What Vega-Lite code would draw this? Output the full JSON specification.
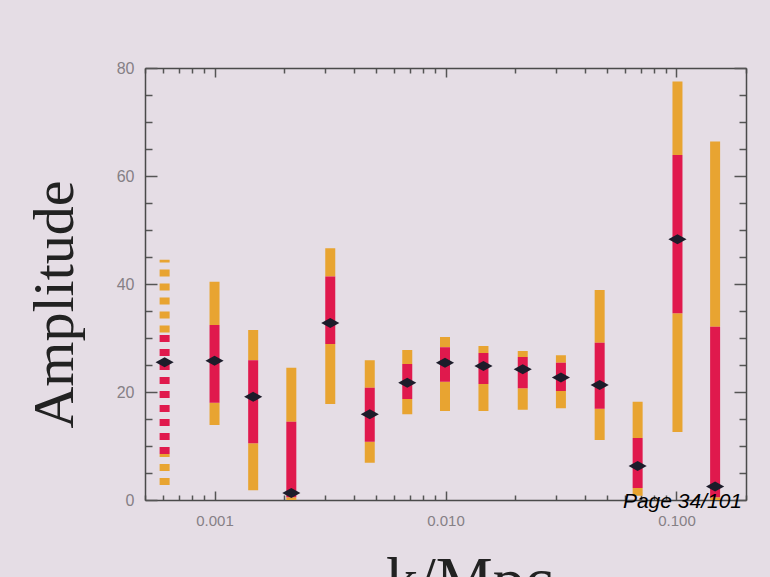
{
  "$schema": "https://vega.github.io/schema/vega-lite/v6.json",
  "width": 601,
  "height": 432,
  "autosize": {"type": "none"},
  "padding": {"left": 145, "top": 68, "right": 24, "bottom": 77},
  "background": "#e5dde5",
  "config": {"view": {"stroke": null}},
  "data": {
    "values": [
      {"k": 0.000608, "lo95": 2.8, "lo68": 8.5, "amp": 25.5, "hi68": 31.0, "hi95": 44.5, "style": "dashed"},
      {"k": 0.001, "lo95": 13.9, "lo68": 18.0, "amp": 25.8, "hi68": 32.4, "hi95": 40.4, "style": "solid"},
      {"k": 0.00147, "lo95": 1.8, "lo68": 10.5, "amp": 19.1, "hi68": 25.9, "hi95": 31.5, "style": "solid"},
      {"k": 0.00215, "lo95": 0.0, "lo68": 0.5, "amp": 1.3, "hi68": 14.5, "hi95": 24.5, "style": "solid"},
      {"k": 0.00317, "lo95": 17.8, "lo68": 28.9, "amp": 32.8, "hi68": 41.4, "hi95": 46.6, "style": "solid"},
      {"k": 0.0047, "lo95": 6.9, "lo68": 10.8, "amp": 15.9, "hi68": 20.8, "hi95": 25.9, "style": "solid"},
      {"k": 0.00683, "lo95": 15.9, "lo68": 18.7, "amp": 21.7, "hi68": 25.2, "hi95": 27.8, "style": "solid"},
      {"k": 0.00995, "lo95": 16.5, "lo68": 21.9, "amp": 25.4, "hi68": 28.3, "hi95": 30.2, "style": "solid"},
      {"k": 0.0146, "lo95": 16.5, "lo68": 21.5, "amp": 24.8, "hi68": 27.2, "hi95": 28.5, "style": "solid"},
      {"k": 0.0216, "lo95": 16.7, "lo68": 20.7, "amp": 24.2, "hi68": 26.5, "hi95": 27.6, "style": "solid"},
      {"k": 0.0316, "lo95": 17.0, "lo68": 20.2, "amp": 22.7, "hi68": 25.4, "hi95": 26.8, "style": "solid"},
      {"k": 0.0465, "lo95": 11.1, "lo68": 16.9, "amp": 21.3, "hi68": 29.1, "hi95": 38.9, "style": "solid"},
      {"k": 0.0679, "lo95": 0.8, "lo68": 2.2, "amp": 6.3, "hi68": 11.5, "hi95": 18.2, "style": "solid"},
      {"k": 0.101, "lo95": 12.6, "lo68": 34.6, "amp": 48.3, "hi68": 63.9, "hi95": 77.5, "style": "solid"},
      {"k": 0.147, "lo95": 0.0, "lo68": 0.5, "amp": 2.5, "hi68": 32.1, "hi95": 66.4, "style": "solid"}
    ]
  },
  "resolve": {"axis": {"x": "independent", "y": "independent"}},
  "layer": [
    {
      "mark": {"type": "rule", "strokeWidth": 10, "color": "#e8a431", "strokeCap": "butt"},
      "encoding": {
        "x": {
          "field": "k", "type": "quantitative",
          "scale": {"type": "log", "domain": [0.0005, 0.2], "nice": false},
          "axis": {
            "orient": "bottom", "title": "k/Mpc",
            "values": [0.0005, 0.0006, 0.0007, 0.0008, 0.0009, 0.001, 0.002, 0.003, 0.004, 0.005, 0.006, 0.007, 0.008, 0.009, 0.01, 0.02, 0.03, 0.04, 0.05, 0.06, 0.07, 0.08, 0.09, 0.1, 0.2],
            "labelExpr": "(datum.value == 0.001 || datum.value == 0.01 || datum.value == 0.1) ? format(datum.value, '.3f') : ''",
            "labelOverlap": false, "labelFlush": false,
            "labelFont": "Liberation Sans", "labelFontSize": 15, "labelColor": "#858085",
            "labelPadding": 22,
            "tickSize": {"condition": {"test": "datum.value == 0.001 || datum.value == 0.01 || datum.value == 0.1", "value": -9}, "value": -5},
            "tickColor": "#555555", "tickWidth": 1.5,
            "domainColor": "#4a4a4a", "domainWidth": 1.5, "grid": false,
            "titleFont": "Liberation Serif", "titleFontSize": 64, "titleFontWeight": "normal", "titleColor": "#222222",
            "titleX": 324, "titleY": 100, "titleBaseline": "alphabetic", "titleAlign": "center"
          }
        },
        "y": {
          "field": "lo95", "type": "quantitative",
          "scale": {"domain": [0, 80], "nice": false},
          "axis": {
            "orient": "left", "title": "Amplitude",
            "values": [0, 5, 10, 15, 20, 25, 30, 35, 40, 45, 50, 55, 60, 65, 70, 75, 80],
            "labelExpr": "datum.value % 20 == 0 ? datum.label : ''",
            "labelOverlap": false, "labelFlush": false,
            "labelFont": "Liberation Sans", "labelFontSize": 16, "labelColor": "#858085",
            "labelPadding": 23,
            "tickSize": {"condition": {"test": "datum.value % 20 == 0", "value": -12}, "value": -7},
            "tickColor": "#555555", "tickWidth": 1.5,
            "domainColor": "#4a4a4a", "domainWidth": 1.5, "grid": false,
            "titleFont": "Liberation Serif", "titleFontSize": 58, "titleFontWeight": "normal", "titleColor": "#222222",
            "titleX": -73, "titleY": 236, "titleAngle": 270, "titleBaseline": "alphabetic", "titleAlign": "center"
          }
        },
        "y2": {"field": "lo68"},
        "strokeDash": {"field": "style", "type": "nominal", "scale": {"domain": ["solid", "dashed"], "range": [[1, 0], [7, 7]]}, "legend": null}
      }
    },
    {
      "mark": {"type": "rule", "strokeWidth": 10, "color": "#e8a431", "strokeCap": "butt"},
      "encoding": {
        "x": {"field": "k", "type": "quantitative", "scale": {"type": "log", "domain": [0.0005, 0.2], "nice": false}, "axis": null},
        "y": {"field": "hi68", "type": "quantitative", "scale": {"domain": [0, 80], "nice": false}, "axis": null},
        "y2": {"field": "hi95"},
        "strokeDash": {"field": "style", "type": "nominal", "scale": {"domain": ["solid", "dashed"], "range": [[1, 0], [7, 7]]}, "legend": null}
      }
    },
    {
      "mark": {"type": "rule", "strokeWidth": 10, "color": "#e0194d", "strokeCap": "butt"},
      "encoding": {
        "x": {
          "field": "k", "type": "quantitative",
          "scale": {"type": "log", "domain": [0.0005, 0.2], "nice": false},
          "axis": {
            "orient": "top", "title": null, "labels": false,
            "values": [0.0005, 0.0006, 0.0007, 0.0008, 0.0009, 0.001, 0.002, 0.003, 0.004, 0.005, 0.006, 0.007, 0.008, 0.009, 0.01, 0.02, 0.03, 0.04, 0.05, 0.06, 0.07, 0.08, 0.09, 0.1, 0.2],
            "tickSize": {"condition": {"test": "datum.value == 0.001 || datum.value == 0.01 || datum.value == 0.1", "value": -9}, "value": -5},
            "tickColor": "#555555", "tickWidth": 1.5,
            "domainColor": "#4a4a4a", "domainWidth": 1.5, "grid": false
          }
        },
        "y": {
          "field": "lo68", "type": "quantitative",
          "scale": {"domain": [0, 80], "nice": false},
          "axis": {
            "orient": "right", "title": null, "labels": false,
            "values": [0, 5, 10, 15, 20, 25, 30, 35, 40, 45, 50, 55, 60, 65, 70, 75, 80],
            "tickSize": {"condition": {"test": "datum.value % 20 == 0", "value": -12}, "value": -7},
            "tickColor": "#555555", "tickWidth": 1.5,
            "domainColor": "#4a4a4a", "domainWidth": 1.5, "grid": false
          }
        },
        "y2": {"field": "hi68"},
        "strokeDash": {"field": "style", "type": "nominal", "scale": {"domain": ["solid", "dashed"], "range": [[1, 0], [7, 7]]}, "legend": null}
      }
    },
    {
      "mark": {"type": "point", "filled": true, "shape": "M-1,0L0,-0.55L1,0L0,0.55Z", "size": 330, "color": "#1c1c2a", "opacity": 1},
      "encoding": {
        "x": {"field": "k", "type": "quantitative", "scale": {"type": "log", "domain": [0.0005, 0.2], "nice": false}, "axis": null},
        "y": {"field": "amp", "type": "quantitative", "scale": {"domain": [0, 80], "nice": false}, "axis": null}
      }
    },
    {
      "data": {"values": [{"label": "Page 34/101"}]},
      "mark": {"type": "text", "font": "Liberation Sans", "fontStyle": "italic", "fontSize": 21, "align": "right", "baseline": "alphabetic", "dx": -4, "dy": 8, "color": "#000000"},
      "encoding": {
        "x": {"datum": 0.2, "type": "quantitative", "scale": {"type": "log", "domain": [0.0005, 0.2], "nice": false}, "axis": null},
        "y": {"datum": 0, "type": "quantitative", "scale": {"domain": [0, 80], "nice": false}, "axis": null},
        "text": {"field": "label", "type": "nominal"}
      }
    }
  ]
}
